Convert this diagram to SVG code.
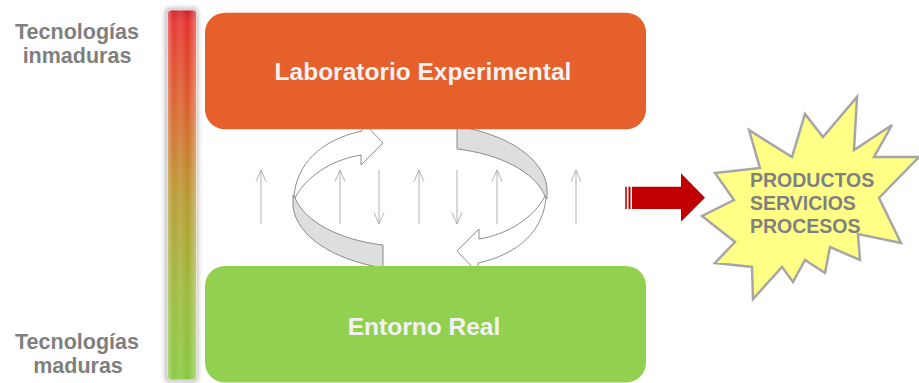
<svg xmlns="http://www.w3.org/2000/svg" width="919" height="383" viewBox="0 0 919 383">
<style>
.lbl{font-family:"Liberation Sans",Arial,sans-serif;font-weight:bold;fill:#7f7f7f;font-size:21.5px;text-anchor:middle}
.box-text{font-family:"Liberation Sans",Arial,sans-serif;font-weight:bold;fill:#f2f2f2;font-size:24.5px;text-anchor:middle}
.star-text{font-family:"Liberation Sans",Arial,sans-serif;font-weight:bold;fill:#808080;font-size:19.5px}
.thin{stroke:#b3b3b3;stroke-width:1;fill:none;marker-end:url(#chev)}
.rib-w{fill:#ffffff;stroke:#808080;stroke-width:0.9;stroke-linejoin:miter}
.rib-g{fill:#dedede;stroke:#808080;stroke-width:0.9}
</style>
<defs>
<linearGradient id="thermo" x1="0" y1="0" x2="0" y2="1">
<stop offset="0" stop-color="#c8202a"/>
<stop offset="0.03" stop-color="#e5302a"/>
<stop offset="0.25" stop-color="#db5e2b"/>
<stop offset="0.5" stop-color="#b8982f"/>
<stop offset="0.75" stop-color="#9db83a"/>
<stop offset="1" stop-color="#86c83f"/>
</linearGradient>
<linearGradient id="cyl" x1="0" y1="0" x2="1" y2="0">
<stop offset="0" stop-color="#ffffff" stop-opacity="0.35"/>
<stop offset="0.2" stop-color="#ffffff" stop-opacity="0.05"/>
<stop offset="0.45" stop-color="#ffffff" stop-opacity="0.15"/>
<stop offset="0.7" stop-color="#ffffff" stop-opacity="0"/>
<stop offset="1" stop-color="#ffffff" stop-opacity="0.35"/>
</linearGradient>
<filter id="glow" x="-50%" y="-10%" width="200%" height="120%">
<feGaussianBlur stdDeviation="2.5"/>
</filter>
<marker id="chev" markerUnits="userSpaceOnUse" viewBox="-13 -7 15 14" markerWidth="15" markerHeight="14" refX="0" refY="0" orient="auto">
<path d="M-11.5,-5 L0,0 L-11.5,5" fill="none" stroke="#b3b3b3" stroke-width="1"/>
</marker>
<g id="curl">
<path class="rib-w" d="M294,197 C296,165 320,140 362,131 L362,121 L383,143 L361,165 L361,155 C330,160 305,178 295,198 Z"/>
<path class="rib-g" d="M293,195 L293,207 C297,235 330,259 383,268 L383,245 C340,240 305,222 295,198 Z"/>
</g>
</defs>

<g id="thermometer">
<rect x="165" y="8" width="33" height="374" rx="4" fill="#8c8c96" opacity="0.6" filter="url(#glow)"/>
<rect x="167.5" y="10" width="29" height="370" rx="3.5" fill="url(#thermo)"/>
<rect x="167.5" y="10" width="29" height="370" rx="3.5" fill="url(#cyl)" stroke="#fff3e8" stroke-opacity="0.7" stroke-width="1"/>
</g>

<g id="connectors">
<g id="cycle-left"><use href="#curl"/></g>
<g id="cycle-right"><use href="#curl" transform="rotate(180 420 197)"/></g>
<path class="thin" d="M261,224 V170"/>
<path class="thin" d="M340,224 V170"/>
<path class="thin" d="M379,170 V224"/>
<path class="thin" d="M419,224 V170"/>
<path class="thin" d="M457,170 V224"/>
<path class="thin" d="M497,224 V170"/>
<path class="thin" d="M576,224 V170"/>
<g id="output-arrow" fill="#c00000">
<rect x="625" y="186.7" width="2" height="22.3" opacity="0.8"/>
<rect x="628.5" y="186.7" width="2" height="22.3"/>
<path d="M632,186.7 H681 V173.3 L705,197.7 L681,221.7 V209 H632 Z"/>
</g>
</g>

<g id="label-inmaduras">
<text class="lbl" x="77" y="38.5">Tecnologías</text>
<text class="lbl" x="77" y="62.7">inmaduras</text>
</g>
<g id="label-maduras">
<text class="lbl" x="77" y="349">Tecnologías</text>
<text class="lbl" x="78" y="373.3">maduras</text>
</g>

<g id="laboratorio">
<rect x="205" y="12.7" width="441" height="116.6" rx="20" fill="#e5602a"/>
<text class="box-text" x="423" y="80">Laboratorio Experimental</text>
</g>

<g id="entorno">
<rect x="205" y="266" width="441" height="116.5" rx="20" fill="#92d050"/>
<text class="box-text" x="424" y="335">Entorno Real</text>
</g>

<g id="resultados">
<polygon points="857,97 854,150 892,125 874,157 919,157 879,198 901,243 858,234 860,260 830,247 825,273 805,260 793,282 782,267 753,299 752,267 715,263 735,242 702,216 734,200 715,173 760,168 749,130 792,157 805,114 823,137" fill="#ffff85" stroke="#a6a6a6" stroke-width="2.5" stroke-linejoin="miter"/>
<text class="star-text" x="750" y="186.7">PRODUCTOS</text>
<text class="star-text" x="750" y="210">SERVICIOS</text>
<text class="star-text" x="750" y="233.3">PROCESOS</text>
</g>
</svg>
